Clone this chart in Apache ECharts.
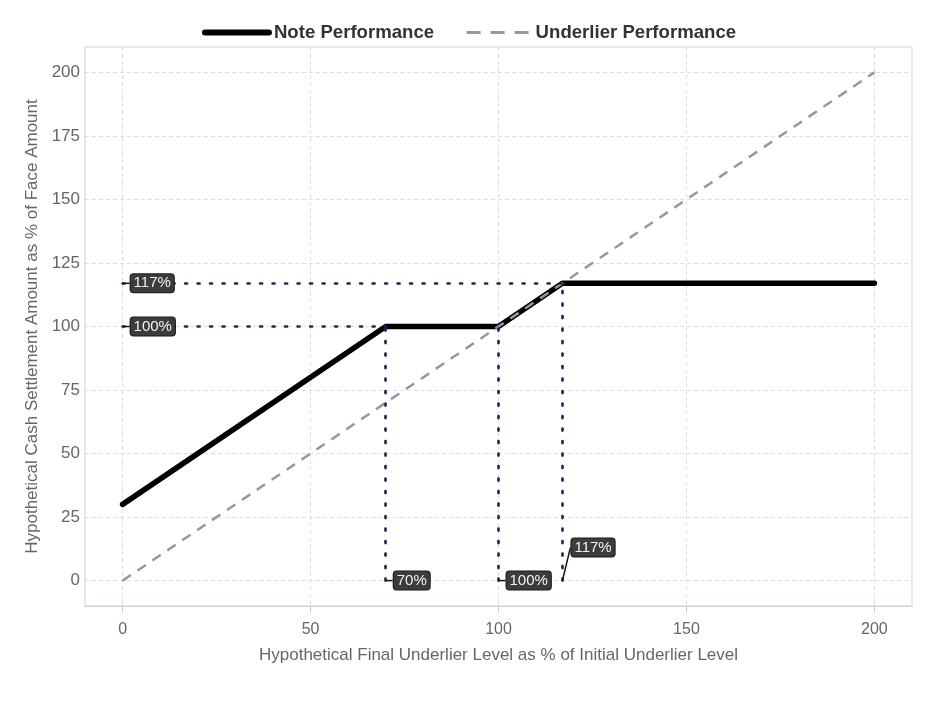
<!DOCTYPE html>
<html>
<head>
<meta charset="utf-8">
<script src="https://cdn.jsdelivr.net/npm/echarts@6/dist/echarts.min.js"></script>
<style>
html, body { margin: 0; padding: 0; background: #fff; }
#chart { width: 938px; height: 703px; }
</style>
</head>
<body>
<div id="chart"></div>
<script>
// payoff data
var noteData = [[0, 30], [70, 100], [100, 100], [117, 117], [200, 117]];
var underlierData = [[0, 0], [200, 200]];
var xTicks = [0, 50, 100, 150, 200];
var yTicks = [0, 25, 50, 75, 100, 125, 150, 175, 200];
// dotted guide segments
var guideLines = [
	[[0, 117], [117, 117]],
	[[0, 100], [70, 100]],
	[[70, 0], [70, 100]],
	[[100, 0], [100, 100]],
	[[117, 0], [117, 117]]
];
// level labels
var labelPoints = [[0, 117], [0, 100], [70, 0], [100, 0], [117, 0]];
var labelTexts = ['117%', '100%', '70%', '100%', '117%'];
var labelOffsets = [[8, 0], [8, 0], [8, 0], [8, 0], [9, -33]];

var font = 'Liberation Sans, Arial, sans-serif';
var myChart = echarts.init(document.getElementById('chart'));

var option = {
	animation: false,
	textStyle: {fontFamily: font},
	legend: {
		top: 18,
		left: 'center',
		itemWidth: 64,
		itemHeight: 14,
		itemGap: 31,
		itemStyle: {opacity: 0},
		textStyle: {fontSize: 18.6, fontWeight: 'bold', color: '#333', fontFamily: font},
		data: [
			{name: 'Note Performance', lineStyle: {width: 6, color: '#000'}},
			{name: 'Underlier Performance', lineStyle: {width: 3, color: '#9895a5', type: [14, 10]}}
		]
	},
	grid: {
		left: 85,
		right: 26,
		top: 47,
		bottom: 97,
		show: true,
		borderColor: '#c9d2e3',
		borderWidth: 1
	},
	xAxis: {
		type: 'value',
		min: -10,
		max: 210,
		name: 'Hypothetical Final Underlier Level as % of Initial Underlier Level',
		nameLocation: 'middle',
		nameGap: 41,
		nameTextStyle: {fontSize: 17, color: '#666', fontFamily: font},
		axisLine: {show: true, onZero: false, lineStyle: {color: '#c9d2e3'}},
		axisTick: {show: true, length: 7, customValues: xTicks, lineStyle: {color: '#c9d2e3'}},
		axisLabel: {customValues: xTicks, fontSize: 16, color: '#666', margin: 16,
			fontFamily: 'Liberation Sans Narrow, Arial Narrow, sans-serif'},
		splitLine: {show: true, lineStyle: {color: '#dedede', type: [4, 3]}}
	},
	yAxis: {
		type: 'value',
		min: -10,
		max: 210,
		name: 'Hypothetical Cash Settlement Amount as % of Face Amount',
		nameLocation: 'middle',
		nameGap: 43,
		nameTextStyle: {fontSize: 17, color: '#666', fontFamily: font},
		axisLine: {show: false},
		axisTick: {show: false, customValues: yTicks},
		axisLabel: {customValues: yTicks, fontSize: 17, color: '#666', margin: 5},
		splitLine: {show: true, lineStyle: {color: '#dedede', type: [4, 3]}}
	},
	series: [{
		name: 'Note Performance',
		type: 'line',
		data: noteData,
		symbol: 'none',
		z: 3,
		lineStyle: {color: '#000', width: 5.5, cap: 'round'},
		itemStyle: {color: '#000'},
		markLine: {
			silent: true,
			symbol: 'none',
			label: {show: false},
			lineStyle: {color: '#1b2858', width: 2.7, type: [2, 10.5], cap: 'round'},
			data: guideLines.map(function (seg) {
				return [{coord: seg[0]}, {coord: seg[1]}];
			})
		}
	}, {
		name: 'Underlier Performance',
		type: 'line',
		data: underlierData,
		symbol: 'none',
		z: 4,
		lineStyle: {color: '#9895a5', width: 2.5, type: [10, 8]},
		itemStyle: {color: '#9895a5'}
	}, {
		name: 'labels',
		type: 'scatter',
		symbolSize: 0,
		z: 6,
		itemStyle: {opacity: 1, color: '#111'},
		data: labelPoints.map(function (p, i) {
			return {value: p, label: {formatter: labelTexts[i]}};
		}),
		label: {
			show: true,
			position: 'right',
			distance: 0,
			color: '#f2f2f2',
			fontSize: 15,
			backgroundColor: '#3c3c3c',
			borderColor: '#1a1a1a',
			borderWidth: 1,
			borderRadius: 3,
			padding: [2, 3, 1, 3]
		},
		labelLayout: function (params) {
			var off = labelOffsets[params.dataIndex];
			return {dx: off[0], dy: off[1]};
		},
		labelLine: {show: true, lineStyle: {color: '#111', width: 1.5}}
	}]
};
myChart.setOption(option);
</script>
</body>
</html>
